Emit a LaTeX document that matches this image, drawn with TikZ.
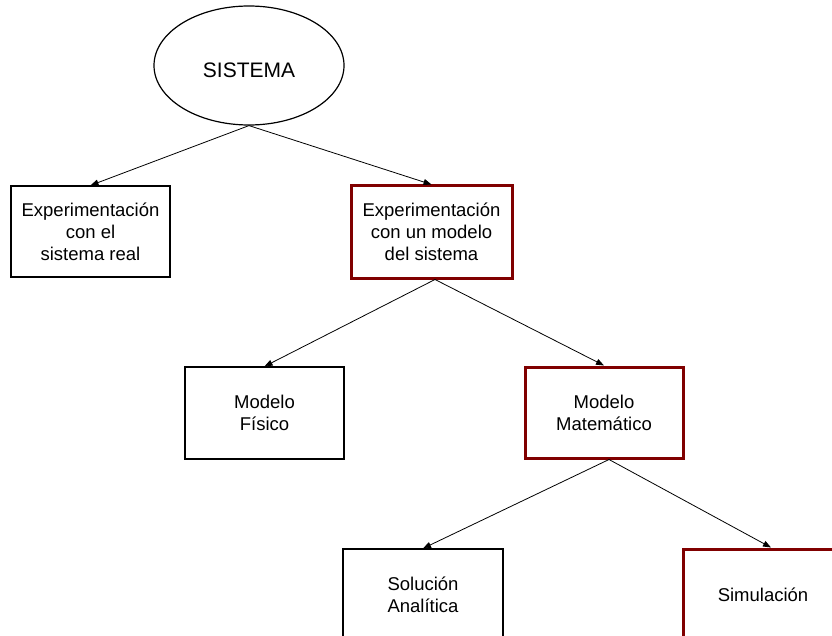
\documentclass[tikz,border=0pt]{standalone}
\usepackage{fontspec}
\setmainfont{Liberation Sans}
\usetikzlibrary{shapes.geometric,arrows.meta}
\definecolor{boxred}{RGB}{128,0,0}
\begin{document}
\begin{tikzpicture}[x=1pt,y=-1pt,
  plainbox/.style={draw=black,line width=1.2pt,fill=white,align=center,
    inner sep=0pt,minimum width=159pt,minimum height=91pt,
    font=\fontsize{18.5}{21.8}\selectfont},
  redbox/.style={plainbox,draw=boxred,line width=3pt},
  link/.style={draw=black,line width=0.8pt,-{Triangle[length=8pt,width=6pt]}}]
  \useasboundingbox (0,0) rectangle (832,636);
  \begin{scope}
    \clip (0,0) rectangle (832,636);
    \node[ellipse,draw=black,line width=1.2pt,minimum width=190pt,minimum height=119pt,
      inner sep=0pt,text height=24pt,text depth=0pt,
      font=\fontsize{21}{24}\selectfont] (sys) at (249,65.5) {SISTEMA};
    \node[plainbox] (real) at (90.5,231.5) {Experimentación\\con el\\sistema real};
    \node[redbox,minimum width=161pt,minimum height=92pt] (mod) at (431.5,232)
      {Experimentación\\con un modelo\\del sistema};
    \node[plainbox,minimum height=92pt] (fis) at (264.5,413) {Modelo\\Físico};
    \node[redbox,minimum width=158pt] (mat) at (604,412.5) {Modelo\\Matemático};
    \node[plainbox,minimum width=160pt,minimum height=92pt] (ana) at (423,595) {Solución\\Analítica};
    \node[redbox,minimum width=160pt,minimum height=92pt] (sim) at (763,595) {Simulación};

    \draw[link] (sys.south) -- (real.north);
    \draw[link] (sys.south) -- (mod.north);
    \draw[link] ([xshift=3.5pt]mod.south) -- (fis.north);
    \draw[link] ([xshift=3.5pt]mod.south) -- (mat.north);
    \draw[link] ([xshift=5pt]mat.south) -- (ana.north);
    \draw[link] ([xshift=5pt]mat.south) -- ([xshift=8pt]sim.north);
  \end{scope}
\end{tikzpicture}
\end{document}
